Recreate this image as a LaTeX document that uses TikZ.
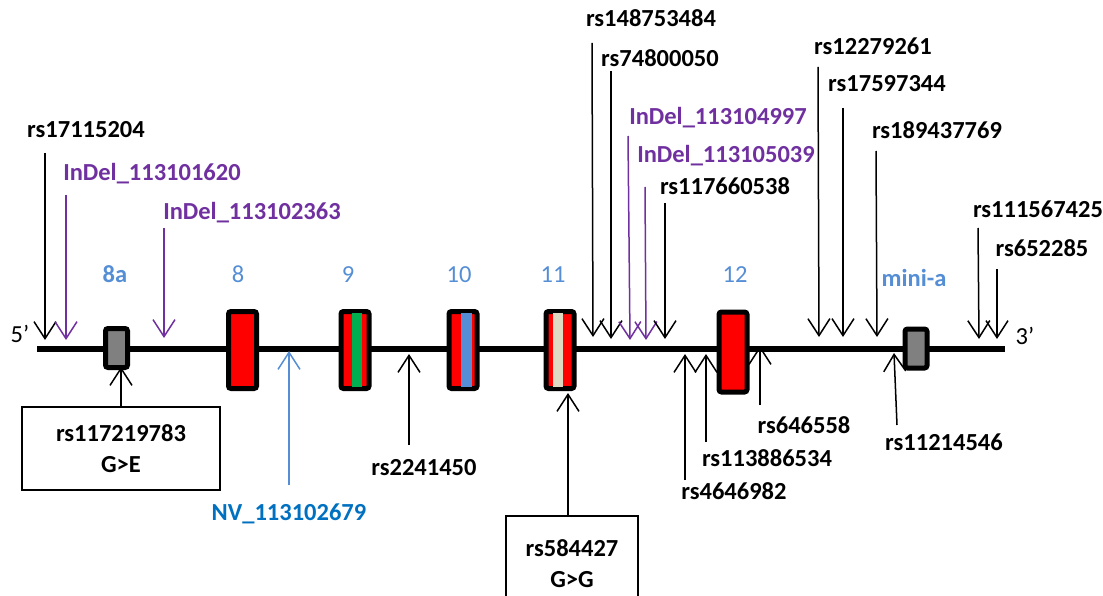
\documentclass[tikz,border=0pt]{standalone}
\usepackage{fontspec}
\setmainfont{Carlito}
\usetikzlibrary{arrows.meta}
\definecolor{purp}{HTML}{7030A0}
\definecolor{exblue}{HTML}{558ED5}
\definecolor{nvblue}{HTML}{0070C0}
\definecolor{sgreen}{HTML}{00B050}
\definecolor{sblue}{HTML}{558ED5}
\definecolor{sbeige}{HTML}{DDD9C3}
\definecolor{egrey}{HTML}{808080}
\begin{document}
\begin{tikzpicture}[x=1pt,y=-1pt,
  every node/.style={font=\fontsize{24.5}{31}\selectfont},
  lab/.style={font=\fontsize{24.5}{31}\selectfont\bfseries, anchor=base, inner sep=0pt},
  exlab/.style={font=\fontsize{24.5}{31}\selectfont, text=exblue, anchor=base, inner sep=0pt},
  arr/.style={line width=1.5pt, -{Straight Barb[length=17pt,width=22pt,line width=1.5pt]}},
  exon/.style={draw=black, line width=5pt, rounded corners=2.5pt, fill=red, inner sep=0pt, minimum width=28pt, minimum height=77pt},
  smallex/.style={draw=black, line width=5pt, rounded corners=2.5pt, fill=egrey, inner sep=0pt, minimum width=22pt, minimum height=39pt},
  infobox/.style={draw=black, line width=1.5pt, align=center, inner sep=0pt, font=\fontsize{24.5}{31}\selectfont\bfseries}]
\useasboundingbox (0,0) rectangle (1103,596);

% main line
\coordinate (L) at (37,349);
\coordinate (R) at (1005,349);
\draw[line width=6pt] (L) -- (R);
\node[anchor=center, inner sep=0pt] (five) at (20,334) {5’};
\node[anchor=center, inner sep=0pt] (three) at (1025,336) {3’};

% exons
\node[smallex] (e8a) at (116.5,348) {};
\node[exon] (e8) at (242.5,350) {};
\node[exon] (e9) at (355,350) {};
\fill[sgreen] (352,313) rectangle (362,387);
\node[exon] (e10) at (463,350) {};
\fill[sblue] (461,313) rectangle (472,387);
\node[exon] (e11) at (560,350) {};
\fill[sbeige] (553,313) rectangle (563,387);
\node[exon, minimum height=80pt] (e12) at (733,352) {};
\node[smallex] (emini) at (916,348.5) {};

% exon labels
\node[exlab, font=\fontsize{24.5}{31}\selectfont\bfseries] (l8a) at (115,282) {8a};
\node[exlab] (l8) at (238,282) {8};
\node[exlab] (l9) at (348,282) {9};
\node[exlab] (l10) at (459,282) {10};
\node[exlab] (l11) at (553,282) {11};
\node[exlab] (l12) at (735,282) {12};
\node[exlab, font=\fontsize{24.5}{31}\selectfont\bfseries] (lmini) at (914,286) {mini-a};

% top labels (down arrows)
\node[lab] (t1) at (86,138) {rs17115204};
\node[lab, text=purp] (t2) at (152,181) {InDel\_113101620};
\node[lab, text=purp] (t3) at (252,220) {InDel\_113102363};
\node[lab] (t4) at (651,27) {rs148753484};
\node[lab] (t5) at (660,67) {rs74800050};
\node[lab, text=purp] (t6) at (718,125) {InDel\_113104997};
\node[lab, text=purp] (t7) at (726,163) {InDel\_113105039};
\node[lab] (t8) at (725,195) {rs117660538};
\node[lab] (t9) at (873,55) {rs12279261};
\node[lab] (t10) at (887,92) {rs17597344};
\node[lab] (t11) at (937,139) {rs189437769};
\node[lab] (t12) at (1038,218) {rs111567425};
\node[lab] (t13) at (1042,256) {rs652285};

\coordinate (a1) at (45,153);   \coordinate (b1) at (45,340);
\coordinate (a2) at (66,195);   \coordinate (b2) at (66,340);
\coordinate (a3) at (164,228);  \coordinate (b3) at (164,338);
\coordinate (a4) at (592,43);   \coordinate (b4) at (593,337);
\coordinate (a5) at (611,71);   \coordinate (b5) at (611,339);
\coordinate (a6) at (628,136);  \coordinate (b6) at (630,340);
\coordinate (a7) at (645,187);  \coordinate (b7) at (646,340);
\coordinate (a8) at (665,203);  \coordinate (b8) at (665,339);
\coordinate (a9) at (818,67);   \coordinate (b9) at (819,337);
\coordinate (a10) at (843,108); \coordinate (b10) at (843,337);
\coordinate (a11) at (876,151); \coordinate (b11) at (877,337);
\coordinate (a12) at (978,228); \coordinate (b12) at (979,339);
\coordinate (a13) at (997,269); \coordinate (b13) at (997,339);

\draw[arr] (a1) -- (b1);
\draw[arr, purp] (a2) -- (b2);
\draw[arr, purp] (a3) -- (b3);
\draw[arr] (a4) -- (b4);
\draw[arr] (a5) -- (b5);
\draw[arr, purp] (a6) -- (b6);
\draw[arr, purp] (a7) -- (b7);
\draw[arr] (a8) -- (b8);
\draw[arr] (a9) -- (b9);
\draw[arr] (a10) -- (b10);
\draw[arr] (a11) -- (b11);
\draw[arr] (a12) -- (b12);
\draw[arr] (a13) -- (b13);

% bottom labels (up arrows)
\node[infobox, minimum width=198pt, minimum height=83pt] (box1) at (121,448.5) {rs117219783\\G>E};
\node[infobox, minimum width=132pt, minimum height=96pt] (box2) at (572,564) {rs584427\\G>G};
\node[lab, text=nvblue] (u1) at (289,520) {NV\_113102679};
\node[lab] (u2) at (424,475) {rs2241450};
\node[lab] (u3) at (734,499) {rs4646982};
\node[lab] (u4) at (767,466) {rs113886534};
\node[lab] (u5) at (804,433) {rs646558};
\node[lab] (u6) at (944,450) {rs11214546};

\coordinate (c1) at (121,407);  \coordinate (d1) at (121,367);
\coordinate (c2) at (289,485);  \coordinate (d2) at (289,351);
\coordinate (c3) at (409,445);  \coordinate (d3) at (409,354);
\coordinate (c4) at (568,517);  \coordinate (d4) at (568,393);
\coordinate (c5) at (685,480);  \coordinate (d5) at (685,354);
\coordinate (c6) at (706,442);  \coordinate (d6) at (706,354);
\coordinate (c7) at (760,405);  \coordinate (d7) at (760,346);
\coordinate (c8) at (897,425);  \coordinate (d8) at (894,353);

\draw[arr] (c1) -- (d1);
\draw[arr, exblue] (c2) -- (d2);
\draw[arr] (c3) -- (d3);
\draw[arr] (c4) -- (d4);
\draw[arr] (c5) -- (d5);
\draw[arr] (c6) -- (d6);
\draw[arr] (c7) -- (d7);
\draw[arr] (c8) -- (d8);
\end{tikzpicture}
\end{document}
